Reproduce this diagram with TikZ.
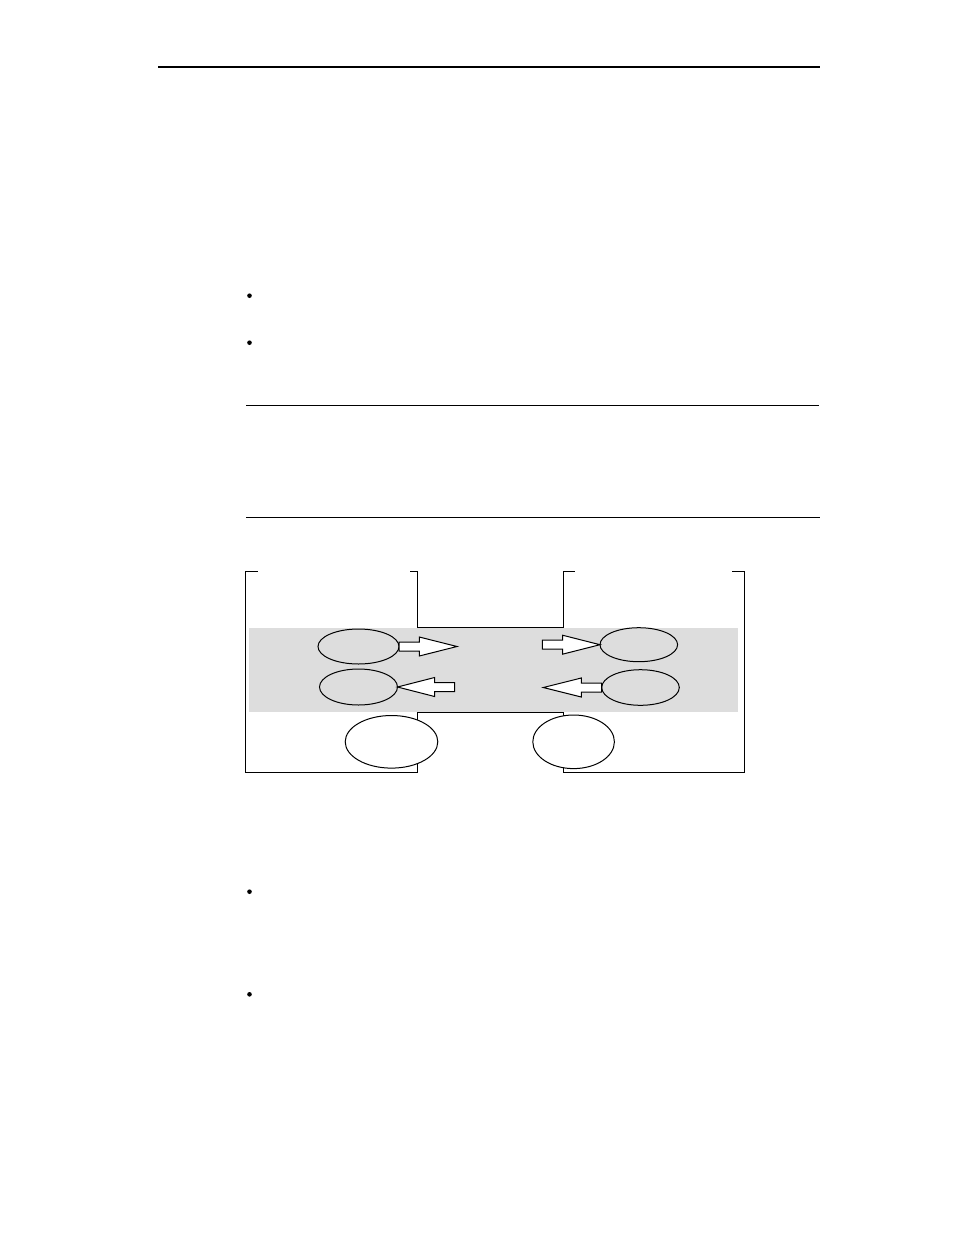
\documentclass[tikz,border=0pt]{standalone}
\usetikzlibrary{shapes.geometric,positioning,calc}
\definecolor{band}{gray}{0.867}
% block arrow from #1 (tail) to #2 (tip)
\newcommand{\fatarrow}[2]{%
  \coordinate (fj) at ($(#1)!0.35!(#2)$);
  \filldraw[blk] ($(#1)!4.5pt!90:(#2)$) -- ($(fj)!4.5pt!90:(#2)$) -- ($(fj)!9.5pt!90:(#2)$) -- (#2)
    -- ($(fj)!9.5pt!-90:(#2)$) -- ($(fj)!4.5pt!-90:(#2)$) -- ($(#1)!4.5pt!-90:(#2)$) -- cycle;}
\begin{document}
\begin{tikzpicture}[x=1pt, y=-1pt, line width=1pt,
    main/.style = {draw, ellipse, inner sep=0pt, outer sep=0pt},
    blk/.style = {draw, fill=white, line join=miter},
    dot/.style = {circle, fill, inner sep=0pt, minimum size=4.6pt},
    rule/.style = {line width=1.1pt}]
  \useasboundingbox (0,0) rectangle (954,1235);
  % page rules and bullets
  \draw[rule] (158,67) -- (819.5,67);
  \draw[rule] (246,405.3) -- (818.5,405.3);
  \draw[rule] (246,517.3) -- (819.5,517.3);
  \node[dot] (b1) at (249.5,295.7) {};
  \node[dot] (b2) at (249.5,342.7) {};
  \node[dot] (b3) at (249.5,891.7) {};
  \node[dot] (b4) at (249.5,994.3) {};
  % grey band
  \fill[band] (249,628) rectangle (738.3,712);
  % frames
  \draw (257.7,571) -- (245,571) -- (245,772) -- (417,772) -- (417,712.3)
    -- (563,712.3) -- (563,772) -- (744,772) -- (744,571) -- (731.7,571);
  \draw (410,571) -- (417,571) -- (417,627) -- (563,627) -- (563,571) -- (575,571);
  % ellipses
  \node[main, minimum width=81pt, minimum height=35pt] (1) at (358.5,646.5) {};
  \node[main, minimum width=78pt, minimum height=36pt] (2) [below=5pt of 1] {};
  \node[main, fill=white, minimum width=92.6pt, minimum height=52.6pt] (3) [below=10.5pt of 2, xshift=33pt] {};
  \node[main, minimum width=77.6pt, minimum height=34pt] (4) [right=201pt of 1, yshift=1.8pt] {};
  \node[main, minimum width=77.6pt, minimum height=35.6pt] (5) [below=8pt of 4, xshift=1.7pt] {};
  \node[main, fill=white, minimum width=81.6pt, minimum height=53.6pt] (6) [right=95pt of 3] {};
  % block arrows
  \coordinate (r1) at ($(1.east)+(58,0)$);
  \coordinate (r2) at ($(4.west)+(-57.7,0)$);
  \coordinate (r3) at ($(2.east)+(57,0)$);
  \coordinate (r4) at ($(5.west)+(-58.4,0)$);
  \fatarrow{1.east}{r1}
  \fatarrow{r2}{4.west}
  \fatarrow{r3}{2.east}
  \fatarrow{5.west}{r4}
\end{tikzpicture}
\end{document}
